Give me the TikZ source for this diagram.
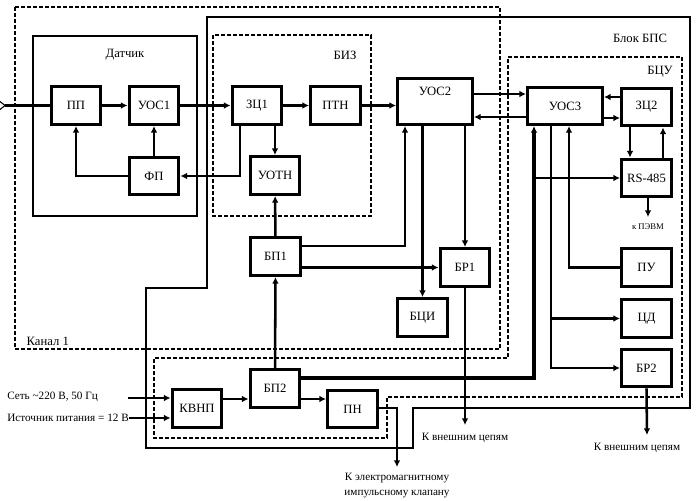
\documentclass[tikz,border=0pt]{standalone}
\usepackage{fontspec}
\setmainfont{Liberation Serif}
\usetikzlibrary{arrows.meta,calc}

\begin{document}
\begin{tikzpicture}[x=0.75pt,y=-0.75pt,
  box/.style={draw,line width=2.4pt,minimum width=37.3pt,minimum height=28.3pt,inner sep=1pt,font=\fontsize{9.5}{11}\selectfont},
  con/.style={line width=1.9pt,-{Latex[length=5pt,width=5pt]}},
  wire/.style={line width=1.9pt},
  frame/.style={line width=0.8pt},
  dframe/.style={line width=1.1pt,dash pattern=on 3pt off 1.5pt},
  lbl/.style={font=\fontsize{9.5}{11.25}\selectfont},
  outlbl/.style={font=\fontsize{8.4}{11.25}\selectfont},
  small/.style={font=\fontsize{6.5}{8}\selectfont}]

\useasboundingbox (0,0) rectangle (700,500);

% frames
\draw[dframe] (15,7) rectangle (500,349);
\node[lbl,anchor=west] (chan) at (22,341) {Канал 1};
\draw[frame] (33,36) rectangle (197,216);
\node[lbl] (sens) at (125,55) {Датчик};
\draw[dframe] (213,35) rectangle (371,216);
\node[lbl] (biz) at (345,55) {БИЗ};
\draw[frame] (207,17) -- (690,17) -- (690,408) -- (413,408) -- (413,448) -- (146,448) -- (146,288) -- (207,288) -- cycle;
\node[lbl] (bps) at (640,38) {Блок БПС};
\draw[dframe] (508,57) -- (682,57) -- (682,397) -- (387,397) -- (387,438) -- (154,438) -- (154,358) -- (508,358) -- cycle;
\node[lbl] (bcu) at (660,72) {БЦУ};

% blocks
\foreach \n/\x/\y/\t in {PP/76/105.5/ПП, UOC1/154/105.5/УОС1, FP/154/176/ФП, ZC1/257/105.5/ЗЦ1,
    PTN/335.5/105.5/ПТН, UOTN/275/175.5/УОТН, ZC2/646.5/107/ЗЦ2, RS/646.5/178/RS-485,
    BP1/275.5/256.5/БП1, BR1/465/267.5/БР1, BCI/422.5/317.5/БЦИ, PU/646.5/267.5/ПУ,
    CD/646.5/318.5/ЦД, BR2/646.5/368/БР2, BP2/275/388.5/БП2, KVNP/197/408.5/КВНП, PN/352.5/409/ПН}
    \node[box] (\n) at (\x,\y) {\t};

\node[box,minimum width=56pt,minimum height=34.3pt,text depth=16pt] (UOC2) at (435,101.5) {УОС2};
\node[box,minimum width=56pt,minimum height=27.6pt] (UOC3) at (565,106) {УОС3};

% sensor channel
\coordinate (src) at (5,105.5);
\draw[frame] ($(src)+(-5,-4)$) -- (src) -- ($(src)+(-5,4)$);
\draw[wire] (src) -- (PP);

\foreach \a/\b in {PP/UOC1, UOC1/ZC1, ZC1/PTN, FP/UOC1, BP1/UOTN, BP2/BP1}
    \draw[con] (\a) -- (\b);

\draw[con] (PTN) -- (PTN -| UOC2.west);
\draw[con] (FP.west) -| (PP.south);
\draw[con] ($(ZC1.south)+(-17,0)$) |- (FP.east);
\draw[con] (ZC1.south -| UOTN.north) -- (UOTN.north);

\draw[con] ($(BP1.east)+(0,-10.5)$) -| ($(UOC2.south)+(-30,0)$);
\draw[con] (BP1.east |- BR1.west) -- (BR1.west);
\draw[con] (UOC2.south -| BCI.north) -- (BCI.north);
\draw[con] (UOC2.south -| BR1.north) -- (BR1.north);

\coordinate (ext1) at (465,425);
\draw[con] (BR1.south) -- (ext1);
\node[outlbl] (ext1txt) at (465,438) {К внешним цепям};

% control unit
\draw[con] ($(UOC2.east)+(0,-7.5)$) -- ($(UOC3.west)+(0,-12)$);
\draw[con] ($(UOC3.west)+(0,11)$) -- ($(UOC2.east)+(0,15.5)$);
\draw[con] ($(ZC2.west)+(0,-10)$) -- ($(UOC3.east)+(0,-9)$);
\draw[con] ($(UOC3.east)+(0,12)$) -- ($(ZC2.west)+(0,11)$);
\draw[con] ($(ZC2.south)+(-16.5,0)$) -- ($(RS.north)+(-16.5,0)$);
\draw[con] ($(RS.north)+(16.5,0)$) -- ($(ZC2.south)+(16.5,0)$);

\coordinate (pc) at (648,217);
\draw[con] (RS.south -| pc) -- (pc);
\node[small] (pctxt) at (648,227) {к ПЭВМ};

\coordinate (bus) at ($(UOC3.south)+(-31,0)$);
\draw[con,line width=2.8pt] ($(BP2.east)+(0,-10.5)$) -| (bus);
\draw[con] (bus |- RS.west) -- (RS.west);

\coordinate (dn) at ($(UOC3.south)+(-14,0)$);
\draw[con] (dn) |- (BR2.west);
\draw[con] (dn |- CD.west) -- (CD.west);
\draw[con] (PU.west) -| ($(UOC3.south)+(4,0)$);

\coordinate (ext2) at (647,435);
\draw[con] (BR2.south) -- (ext2);
\node[outlbl] (ext2txt) at (637,448) {К внешним цепям};

% power
\draw[con] ($(KVNP.east)+(0,-9.5)$) -- ($(BP2.west)+(0,10.5)$);
\draw[con] ($(BP2.east)+(0,10.5)$) -- ($(PN.west)+(0,-10)$);

\node[outlbl,anchor=west,inner sep=0pt] (mains) at (7,397) {Сеть \textasciitilde220 В, 50 Гц};
\coordinate (mainsin) at (128,398);
\draw[con] (mainsin) -- (mainsin -| KVNP.west);
\node[outlbl,anchor=west,inner sep=0pt] (batt) at (7,418) {Источник питания = 12 В};
\draw[con] (batt.east) -- (batt.east -| KVNP.west);

\coordinate (valve) at (397,467);
\draw[con] ($(PN.east)+(0,-1)$) -| (valve);
\node[outlbl,align=center] (valvetxt) at (397,486) {К электромагнитному\\импульсному клапану};

\end{tikzpicture}
\end{document}
